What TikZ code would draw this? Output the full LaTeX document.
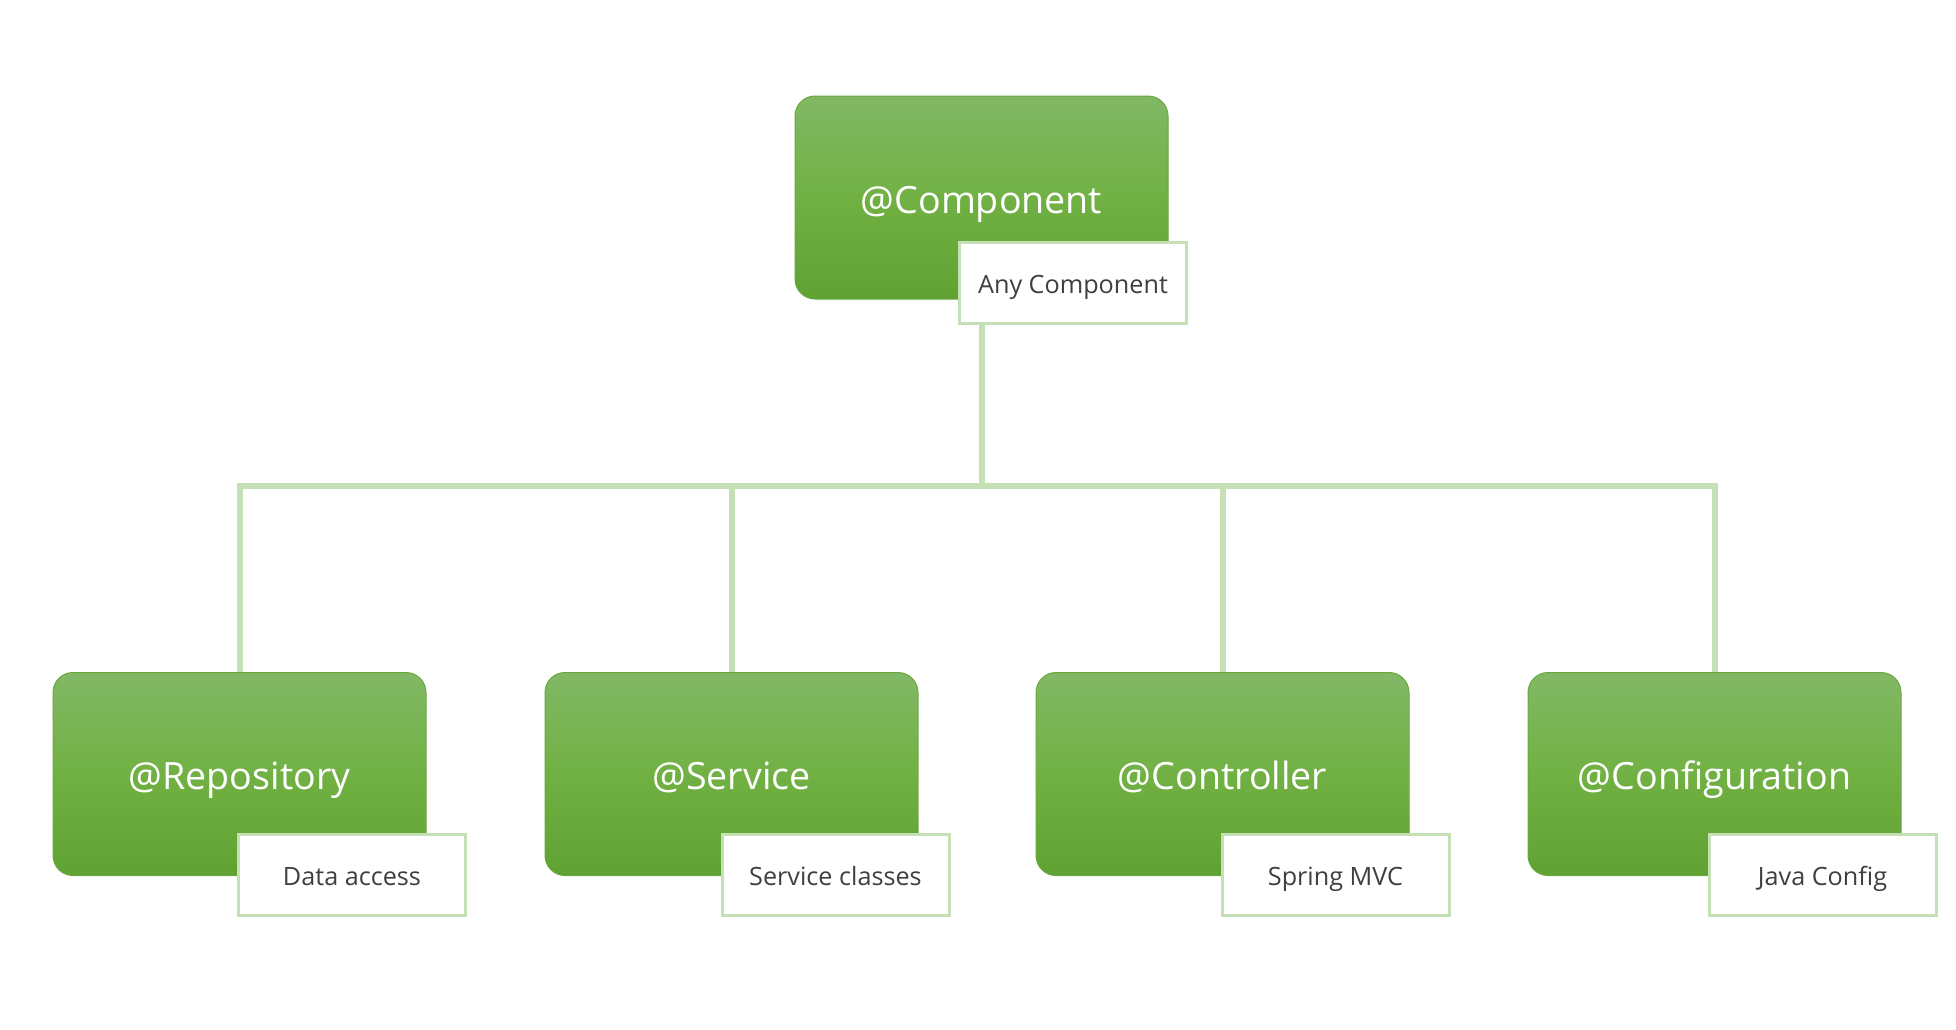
\documentclass[tikz,border=0pt]{standalone}
\usepackage{fontspec}
\setmainfont{Open Sans}
\usepackage{tikz}
\usetikzlibrary{positioning}

\definecolor{boxtop}{HTML}{82B866}
\definecolor{boxmid}{HTML}{71B143}
\definecolor{boxbot}{HTML}{5FA232}
\definecolor{boxline}{HTML}{6AA83F}
\definecolor{linkgreen}{HTML}{C5E0B4}
\definecolor{notetext}{HTML}{3F3F3F}

\begin{document}
\begin{tikzpicture}[x=0.5pt,y=-0.5pt,
    stereo/.style={rectangle, rounded corners=10pt, draw=boxline, line width=0.5pt,
      top color=boxtop, bottom color=boxbot, middle color=boxmid,
      minimum width=186.5pt, minimum height=101.5pt, inner sep=0pt,
      text height=15.6pt, text depth=0pt,
      text=white, font=\fontsize{18.8}{22}\selectfont},
    note/.style={rectangle, draw=linkgreen, line width=1.5pt, fill=white,
      minimum width=113.5pt, minimum height=40.5pt, inner sep=0pt,
      text height=11pt, text depth=0pt,
      text=notetext, font=\fontsize{12.6}{15}\selectfont},
    link/.style={draw=linkgreen, line width=3pt}]

  \useasboundingbox (0,0) rectangle (1956,1029);

  \node[stereo] (comp) at (981.5,197.5) {@Component};
  \node[stereo] (repo) at (239.5,774) {@Repository};
  \node[stereo] (serv) at (731.5,774) {@Service};
  \node[stereo] (ctrl) at (1222.5,774) {@Controller};
  \node[stereo] (conf) at (1714.5,774) {@Configuration};

  \coordinate (bar) at (981.5,486);
  \foreach \child in {repo,serv,ctrl,conf}
    \draw[link] (comp.south) -- (comp.south |- bar) -| (\child.north);

  \node[note] (compnote) at (1073,282.5) {Any Component};
  \node[note] (reponote) at (352,874.5) {Data access};
  \node[note] (servnote) at (835.5,874.5) {Service classes};
  \node[note] (ctrlnote) at (1335.5,874.5) {Spring MVC};
  \node[note] (confnote) at (1822.5,874.5) {Java Config};

\end{tikzpicture}
\end{document}
